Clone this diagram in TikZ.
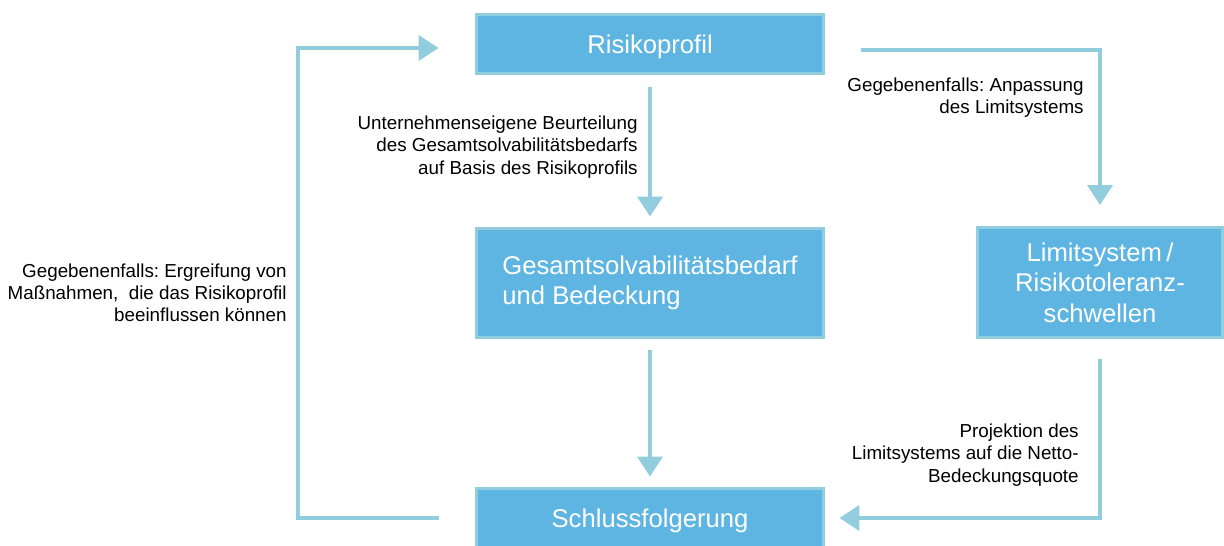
\documentclass[tikz,border=0pt]{standalone}
\usepackage{fontspec}
\setmainfont{Liberation Sans}
\usetikzlibrary{arrows.meta}
\frenchspacing
\definecolor{boxblue}{RGB}{94,181,226}
\definecolor{edgeblue}{RGB}{146,205,221}
\tikzset{
  box/.style={draw=edgeblue, line width=0.06cm, fill=boxblue, text=white,
    font=\fontsize{14.6}{17.3}\selectfont, inner sep=0pt},
  flow/.style={draw=edgeblue, line width=0.08cm, -{Triangle[width=0.5cm,length=0.4cm]}},
  note/.style={align=right, anchor=east, inner sep=0pt,
    font=\fontsize{10.7}{12.6}\selectfont}
}
\begin{document}
\begin{tikzpicture}[x=0.02cm,y=-0.02cm]
            \useasboundingbox (0,0) rectangle (1224,545);
            \node[box, minimum width=6.96cm, minimum height=1.2cm, text height=0.5cm, text depth=0.11cm] (risk) at (650,44) {Risikoprofil};
            \node[box, minimum width=6.96cm, minimum height=2.2cm, align=left] (gesamt) at (650,283) {Gesamtsolvabilitätsbedarf\\und Bedeckung};
            \node[box, minimum width=4.92cm, minimum height=2.2cm, align=center] (limit) at (1100,282.5) {Limitsystem\,/\\Risikotoleranz-\\schwellen};
            \node[box, minimum width=6.96cm, minimum height=1.2cm, text height=0.5cm, text depth=0.11cm] (schluss) at (650,518) {Schlussfolgerung};

            \node[note] (beurteilung) at (638,147) {Unternehmenseigene Beurteilung\\des Gesamtsolvabilitätsbedarfs\\auf Basis des Risikoprofils};
            \node[note] (anpassung) at (1084,98) {Gegebenenfalls: Anpassung\\des Limitsystems};
            \node[note] (massnahmen) at (287,293) {Gegebenenfalls: Ergreifung von\\Maßnahmen,~ die das Risikoprofil\\beeinflussen können};
            \node[note] (projektion) at (1079,455) {Projektion des\\Limitsystems auf die Netto-\\Bedeckungsquote};

            \coordinate (loop) at (298,300);
            \draw[flow] ([yshift=-0.24cm]risk.south) -- ([yshift=0.2cm]gesamt.north);
            \draw[flow] ([xshift=0.72cm,yshift=-0.12cm]risk.east) -| ([yshift=0.42cm]limit.north);
            \draw[flow] ([yshift=-0.22cm]gesamt.south) -- ([yshift=0.2cm]schluss.north);
            \draw[flow] ([yshift=-0.4cm]limit.south) |- ([xshift=0.28cm]schluss.east);
            \draw[flow] ([xshift=-0.72cm]schluss.west) -| (loop) |- ([xshift=-0.72cm,yshift=-0.08cm]risk.west);
\end{tikzpicture}
\end{document}
